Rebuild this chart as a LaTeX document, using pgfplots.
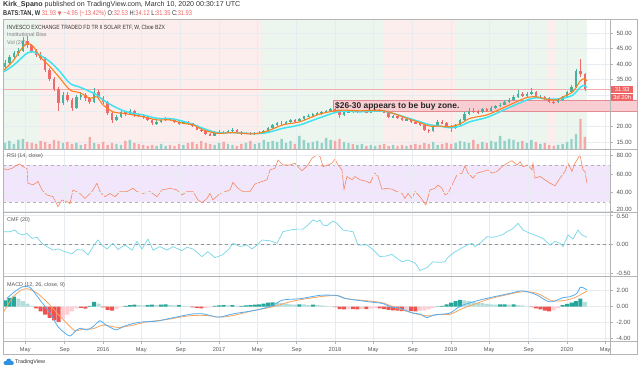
\documentclass[border=0pt]{standalone}
\usepackage{pgfplots}
\pgfplotsset{compat=1.18}
\usepackage{pgfplotstable}
\usepackage{fontspec}
\setmainfont{Liberation Sans}
\newfontfamily\dejavu{DejaVu Sans}
\newfontfamily\narrowfont[FakeStretch=0.83]{Liberation Sans}

\definecolor{bggreen}{HTML}{EDF6EE}
\definecolor{bgpink}{HTML}{FDEEEE}
\definecolor{gridc}{HTML}{E6ECF0}
\definecolor{framec}{HTML}{B4B4B4}
\definecolor{lblc}{HTML}{555555}
\definecolor{txt}{HTML}{333333}
\definecolor{upc}{HTML}{46B39E}
\definecolor{dnc}{HTML}{EF6A6A}
\definecolor{vup}{HTML}{93D2C9}
\definecolor{vdn}{HTML}{F6A8A8}
\definecolor{emao}{HTML}{FF7F1E}
\definecolor{emac}{HTML}{3EE3F0}
\definecolor{rsic}{HTML}{F4895F}
\definecolor{rsiband}{HTML}{F2E6FC}
\definecolor{cmfc}{HTML}{76D6E8}
\definecolor{macdb}{HTML}{55AEF2}
\definecolor{macdo}{HTML}{F8A460}
\definecolor{hdg}{HTML}{26A69A}
\definecolor{hlg}{HTML}{B2DFDB}
\definecolor{hrd}{HTML}{EF5350}
\definecolor{hpk}{HTML}{FFCDD2}
\definecolor{zonef}{HTML}{F9CED2}
\definecolor{zoned}{HTML}{E48A94}
\definecolor{pricered}{HTML}{EF6464}
\definecolor{tvblue}{HTML}{2F8FE0}

% biweekly candles: index i, open, high, low, close, volume (bar height units)
\pgfplotstableread{
i o h l c v
0 39.0 41.2 38.6 40.5 6
1 40.5 42.8 40.0 42.2 8
2 42.2 44.2 41.5 43.5 5
3 43.5 45.3 42.6 44.2 9
4 44.2 48.8 43.8 47.5 10
5 47.5 49.0 45.2 46.0 7
6 46.0 46.6 43.6 44.2 6
7 44.2 45.0 42.4 43.0 5
8 43.0 43.8 41.3 42.0 8
9 42.0 42.4 37.5 38.0 7
10 38.0 38.8 34.6 35.2 5
11 35.2 36.0 31.4 32.0 9
12 32.0 32.6 24.8 27.5 8
13 27.5 31.0 26.8 30.2 6
14 30.2 31.2 28.0 28.6 7
15 28.6 29.2 24.9 26.0 5
16 26.0 30.0 25.6 29.3 6
17 29.3 31.2 28.5 30.1 4
18 30.1 30.8 28.2 29.0 5
19 29.0 29.6 27.2 28.0 12
20 28.0 32.4 27.6 31.0 6
21 31.0 31.6 28.7 29.2 5
22 29.2 29.8 27.1 27.8 7
23 27.8 28.2 23.6 24.3 4
24 24.3 24.8 21.2 22.2 6
25 22.2 23.6 21.6 23.0 5
26 23.0 25.0 22.6 24.5 4
27 24.5 25.1 23.3 24.0 8
28 24.0 25.6 23.6 25.0 9
29 25.0 25.4 23.1 23.6 6
30 23.6 24.2 22.9 23.5 5
31 23.5 24.0 22.5 23.0 4
32 23.0 23.4 21.6 22.0 3
33 22.0 22.3 20.3 21.0 4
34 21.0 22.0 20.6 21.5 3
35 21.5 22.4 21.1 22.0 5
36 22.0 22.9 21.7 22.5 3
37 22.5 22.8 21.6 22.0 4
38 22.0 22.3 21.1 21.5 3
39 21.5 21.8 20.6 21.0 5
40 21.0 21.9 20.7 21.5 4
41 21.5 21.7 20.6 21.0 6
42 21.0 21.2 19.7 20.0 7
43 20.0 20.3 18.7 19.0 5
44 19.0 19.4 18.1 18.5 8
45 18.5 18.8 17.2 17.5 6
46 17.5 17.9 16.8 17.0 5
47 17.0 18.4 16.9 18.0 4
48 18.0 18.8 17.6 18.3 6
49 18.3 18.6 17.6 18.0 7
50 18.0 18.9 17.8 18.6 5
51 18.6 19.4 18.3 19.0 4
52 19.0 19.2 17.9 18.2 3
53 18.2 18.5 17.4 17.8 5
54 17.8 18.3 17.5 18.0 6
55 18.0 18.2 17.3 17.6 8
56 17.6 18.2 17.4 17.9 5
57 17.9 18.4 17.6 18.0 6
58 18.0 18.8 17.8 18.5 9
59 18.5 19.8 18.3 19.5 7
60 19.5 20.8 19.2 20.5 8
61 20.5 21.4 20.2 21.0 7
62 21.0 21.6 20.5 21.0 10
63 21.0 21.9 20.7 21.5 6
64 21.5 22.4 21.2 22.0 8
65 22.0 22.3 21.4 21.8 5
66 21.8 22.8 21.6 22.5 13
67 22.5 23.5 22.2 23.2 9
68 23.2 23.9 22.9 23.5 6
69 23.5 24.4 23.2 24.0 7
70 24.0 24.6 23.6 24.2 8
71 24.2 24.9 23.8 24.5 6
72 24.5 25.4 24.2 25.0 11
73 25.0 25.9 24.7 25.5 9
74 25.5 26.0 24.6 25.0 8
75 25.0 25.2 22.8 23.8 10
76 23.8 24.8 23.4 24.5 7
77 24.5 25.3 24.2 25.0 6
78 25.0 25.3 24.4 24.8 5
79 24.8 25.2 24.4 24.8 4
80 24.8 25.3 24.5 25.0 5
81 25.0 25.2 24.2 24.5 3
82 24.5 25.3 24.3 25.0 4
83 25.0 25.6 24.8 25.3 3
84 25.3 25.5 24.7 25.0 4
85 25.0 25.2 24.2 24.5 5
86 24.5 24.7 22.8 23.0 3
87 23.0 23.6 22.7 23.3 4
88 23.3 23.5 22.5 22.8 3
89 22.8 23.0 21.7 22.0 4
90 22.0 22.6 21.8 22.3 3
91 22.3 22.5 21.2 21.5 4
92 21.5 21.8 20.7 21.0 5
93 21.0 21.3 20.2 20.5 4
94 20.5 20.7 18.6 19.0 6
95 19.0 19.3 17.9 18.5 5
96 18.5 20.4 18.3 20.0 7
97 20.0 22.0 19.8 21.5 4
98 21.5 22.2 20.8 21.0 5
99 21.0 21.3 19.7 20.0 6
100 20.0 20.3 18.2 19.5 5
101 19.5 20.9 19.3 20.5 6
102 20.5 22.4 20.3 22.0 8
103 22.0 24.6 21.8 24.0 7
104 24.0 25.9 23.7 25.0 6
105 25.0 25.8 24.3 24.8 9
106 24.8 25.2 24.0 24.5 5
107 24.5 26.0 24.3 25.5 7
108 25.5 25.9 24.7 25.0 6
109 25.0 26.4 24.8 26.0 8
110 26.0 27.0 25.7 26.5 7
111 26.5 27.5 26.2 27.0 13
112 27.0 28.5 26.8 28.0 8
113 28.0 29.0 27.6 28.5 10
114 28.5 30.2 28.2 29.5 9
115 29.5 31.7 29.2 30.5 7
116 30.5 31.2 29.5 30.0 8
117 30.0 31.0 29.6 30.5 6
118 30.5 32.4 30.2 31.0 9
119 31.0 31.3 29.0 29.5 7
120 29.5 30.2 29.1 29.5 5
121 29.5 29.9 28.5 29.0 6
122 29.0 29.3 27.6 28.0 4
123 28.0 28.4 27.2 27.8 3
124 27.8 28.8 27.5 28.5 4
125 28.5 29.9 28.2 29.5 5
126 29.5 31.5 29.3 31.0 7
127 31.0 33.4 30.8 32.8 10
128 32.8 38.5 32.4 37.8 15
129 37.8 41.7 35.8 36.9 30
130 36.9 37.2 31.35 31.93 12
}\candles

\pgfplotstableread{
x y
2015.147 38.1
2015.224 41.0
2015.284 44.3
2015.345 46.6
2015.397 45.8
2015.457 42.4
2015.543 39.2
2015.629 35.5
2015.716 31.7
2015.802 30.8
2015.888 29.0
2015.948 29.5
2016.000 26.9
2016.086 24.7
2016.172 24.2
2016.259 23.7
2016.345 23.1
2016.466 22.1
2016.578 22.1
2016.690 21.0
2016.776 20.5
2016.862 18.9
2016.983 17.8
2017.121 18.0
2017.293 17.6
2017.414 18.5
2017.552 20.5
2017.698 21.5
2017.871 24.0
2018.043 25.2
2018.216 25.0
2018.388 25.2
2018.500 24.2
2018.621 22.6
2018.733 21.2
2018.819 20.1
2018.905 20.1
2018.991 19.9
2019.078 20.8
2019.164 22.6
2019.310 23.7
2019.422 25.5
2019.534 27.4
2019.655 29.3
2019.741 29.5
2019.828 28.7
2019.914 28.5
2019.966 29.5
2020.052 31.2
2020.112 34.5
2020.147 35.3
2020.172 34.7
}\emafast

\pgfplotstableread{
x y
2015.147 37.6
2015.224 39.5
2015.284 41.5
2015.345 43.5
2015.397 44.0
2015.457 42.9
2015.543 40.8
2015.629 37.6
2015.716 33.8
2015.802 32.6
2015.888 31.2
2015.948 30.1
2016.000 28.5
2016.086 26.6
2016.172 25.1
2016.259 24.2
2016.345 23.7
2016.466 22.6
2016.603 22.4
2016.750 21.0
2016.862 19.4
2016.983 18.0
2017.121 18.0
2017.293 17.7
2017.414 18.0
2017.552 19.4
2017.698 20.5
2017.871 22.8
2018.043 24.8
2018.216 24.7
2018.388 25.0
2018.500 24.2
2018.621 22.8
2018.733 21.5
2018.819 20.5
2018.905 20.1
2018.991 19.6
2019.078 20.1
2019.164 21.5
2019.310 22.9
2019.422 24.7
2019.534 26.6
2019.655 28.5
2019.741 29.2
2019.828 28.8
2019.914 28.8
2019.966 29.0
2020.052 30.1
2020.112 32.5
2020.147 33.2
2020.172 32.6
}\emaslow

\pgfplotstableread{
x y
2015.138 66.3
2015.172 64.5
2015.216 66.3
2015.259 69.9
2015.284 71.0
2015.310 68.0
2015.345 66.0
2015.353 50.0
2015.397 48.4
2015.440 52.0
2015.474 42.8
2015.517 37.4
2015.569 35.5
2015.612 24.7
2015.647 32.0
2015.690 30.0
2015.716 28.0
2015.741 42.8
2015.802 39.0
2015.845 33.6
2015.905 41.0
2015.948 50.0
2015.974 41.0
2016.017 35.5
2016.060 39.0
2016.103 35.5
2016.147 41.0
2016.207 41.0
2016.259 44.6
2016.293 41.0
2016.345 39.0
2016.405 41.0
2016.466 35.5
2016.509 42.8
2016.578 44.6
2016.638 42.8
2016.681 37.4
2016.724 41.0
2016.776 41.0
2016.819 32.0
2016.853 29.0
2016.897 33.6
2016.922 39.0
2016.948 32.0
2017.009 39.0
2017.095 42.8
2017.121 51.1
2017.164 44.6
2017.207 41.0
2017.267 41.0
2017.310 49.3
2017.371 52.0
2017.414 53.8
2017.440 64.6
2017.483 66.3
2017.509 75.3
2017.552 69.9
2017.612 69.9
2017.655 71.7
2017.681 68.0
2017.716 63.6
2017.767 69.9
2017.802 77.2
2017.845 80.8
2017.871 79.0
2017.897 68.0
2017.940 69.9
2017.974 71.7
2018.000 76.1
2018.026 69.9
2018.060 64.6
2018.078 43.6
2018.103 57.4
2018.147 53.8
2018.172 57.4
2018.216 53.8
2018.276 52.0
2018.302 50.2
2018.345 61.0
2018.371 57.4
2018.405 43.6
2018.448 44.6
2018.491 43.6
2018.534 41.0
2018.578 39.1
2018.603 33.6
2018.629 39.1
2018.664 33.6
2018.690 41.0
2018.733 35.5
2018.784 26.5
2018.819 42.8
2018.862 44.6
2018.888 48.2
2018.922 44.6
2018.948 37.4
2018.974 39.1
2019.017 50.2
2019.052 59.2
2019.095 61.0
2019.121 68.9
2019.147 61.0
2019.190 55.6
2019.224 61.0
2019.276 62.8
2019.319 64.6
2019.353 61.0
2019.397 62.8
2019.440 68.0
2019.483 71.7
2019.526 74.5
2019.569 69.9
2019.595 73.5
2019.621 68.0
2019.664 69.9
2019.698 64.6
2019.707 71.7
2019.724 55.6
2019.767 57.4
2019.810 53.8
2019.853 50.2
2019.897 47.3
2019.940 55.6
2019.983 62.8
2020.009 71.7
2020.043 62.8
2020.069 71.7
2020.112 80.8
2020.138 64.6
2020.155 62.8
2020.172 50.2
}\rsi

\pgfplotstableread{
x y
2015.138 0.216
2015.198 0.216
2015.241 0.245
2015.267 0.188
2015.310 0.160
2015.345 0.188
2015.388 0.100
2015.431 0.120
2015.474 0.017
2015.517 -0.040
2015.569 -0.100
2015.612 -0.080
2015.672 -0.127
2015.733 -0.166
2015.776 -0.090
2015.828 -0.100
2015.871 -0.183
2015.914 -0.040
2015.957 0.074
2015.991 -0.012
2016.034 -0.080
2016.086 0.017
2016.129 -0.090
2016.190 -0.012
2016.250 -0.100
2016.293 0.050
2016.336 -0.080
2016.388 0.090
2016.431 -0.100
2016.491 -0.040
2016.552 -0.100
2016.603 -0.040
2016.681 -0.110
2016.724 -0.050
2016.776 -0.080
2016.853 -0.212
2016.905 -0.127
2016.966 -0.230
2017.026 -0.183
2017.078 -0.100
2017.121 0.017
2017.181 -0.040
2017.241 -0.012
2017.284 -0.080
2017.328 -0.012
2017.371 0.074
2017.440 0.060
2017.500 0.017
2017.552 0.216
2017.612 0.245
2017.672 0.260
2017.724 0.260
2017.767 0.330
2017.810 0.417
2017.845 0.390
2017.871 0.417
2017.897 0.330
2017.931 0.320
2017.983 0.400
2018.017 0.360
2018.069 0.245
2018.155 0.216
2018.198 -0.012
2018.276 -0.012
2018.328 -0.090
2018.388 -0.210
2018.448 -0.200
2018.491 -0.170
2018.534 -0.240
2018.578 -0.300
2018.629 -0.270
2018.690 -0.320
2018.733 -0.450
2018.793 -0.400
2018.845 -0.300
2018.905 -0.310
2018.948 -0.300
2018.966 -0.240
2019.017 -0.150
2019.078 -0.080
2019.138 -0.012
2019.181 0.017
2019.207 -0.040
2019.250 0.017
2019.310 0.130
2019.362 0.120
2019.440 0.160
2019.483 0.216
2019.534 0.270
2019.578 0.360
2019.621 0.245
2019.681 0.188
2019.741 0.145
2019.793 0.100
2019.853 -0.012
2019.897 0.050
2019.940 0.017
2019.966 -0.040
2020.009 0.160
2020.052 0.090
2020.095 0.245
2020.129 0.160
2020.172 0.120
}\cmf

\pgfplotstableread{
x y
2015.172 1.05
2015.241 1.90
2015.310 2.50
2015.371 2.40
2015.457 0.84
2015.543 -0.80
2015.612 -2.50
2015.672 -3.30
2015.716 -3.66
2015.759 -3.10
2015.802 -2.70
2015.862 -2.90
2015.914 -2.50
2015.974 -1.75
2016.017 -2.20
2016.078 -2.70
2016.121 -2.90
2016.172 -2.50
2016.259 -2.10
2016.345 -1.90
2016.466 -1.80
2016.578 -1.45
2016.664 -1.20
2016.776 -0.90
2016.862 -0.90
2016.948 -1.20
2017.009 -1.30
2017.121 -0.90
2017.241 -0.62
2017.353 -0.33
2017.466 0.20
2017.552 0.84
2017.698 1.00
2017.871 1.42
2018.017 1.40
2018.069 1.10
2018.155 0.88
2018.328 0.55
2018.414 0.40
2018.474 0.00
2018.560 -0.20
2018.672 -0.80
2018.733 -0.92
2018.793 -1.37
2018.845 -1.05
2018.905 -0.96
2018.991 -0.80
2019.052 -0.20
2019.103 0.20
2019.190 0.60
2019.310 1.05
2019.422 1.40
2019.509 1.67
2019.595 1.96
2019.655 1.88
2019.741 1.46
2019.828 0.71
2019.879 0.63
2019.966 1.13
2020.026 1.25
2020.086 1.67
2020.112 2.38
2020.138 2.38
2020.172 2.10
}\macdline

\pgfplotstableread{
x y
2015.138 -0.80
2015.224 1.20
2015.310 2.17
2015.371 2.17
2015.431 1.70
2015.517 0.60
2015.603 -0.80
2015.690 -2.10
2015.759 -3.00
2015.828 -2.80
2015.914 -2.75
2016.000 -2.30
2016.086 -2.50
2016.147 -2.60
2016.259 -2.30
2016.379 -1.90
2016.552 -1.60
2016.664 -1.30
2016.776 -1.10
2016.897 -1.10
2017.009 -1.30
2017.121 -1.10
2017.293 -0.50
2017.466 0.00
2017.638 0.70
2017.871 1.25
2018.026 1.40
2018.103 1.00
2018.388 0.55
2018.500 0.00
2018.647 -0.70
2018.793 -1.15
2018.905 -0.96
2018.991 -0.96
2019.103 -0.20
2019.224 0.42
2019.336 1.00
2019.483 1.50
2019.621 1.88
2019.741 1.67
2019.853 0.84
2019.914 0.70
2020.000 0.84
2020.086 1.25
2020.172 1.96
}\signal

% histogram: k = 0 growing above, 1 falling above, 2 falling below, 3 rising below
\pgfplotstableread{
i v k
0 0.8 0
1 1.1 0
2 1.25 0
3 1.0 1
4 0.7 1
5 0.4 1
6 0.1 1
7 -0.2 2
8 -0.6 2
9 -1.0 2
10 -1.4 2
11 -1.7 2
12 -1.9 2
13 -1.5 3
14 -1.0 3
15 -0.6 3
16 -0.2 3
17 -0.15 2
18 -0.25 2
19 0.1 0
20 0.6 0
21 0.4 1
22 -0.1 2
23 -0.4 2
24 -0.5 2
25 -0.3 3
26 -0.05 3
27 0.1 0
28 0.2 0
29 0.25 0
30 0.2 1
31 0.15 1
32 0.2 0
33 0.25 0
34 0.2 1
35 0.25 0
36 0.3 0
37 0.2 1
38 0.15 1
39 0.2 0
40 0.1 1
41 0.05 1
42 -0.1 2
43 -0.15 2
44 -0.2 2
45 -0.15 3
46 -0.1 3
47 0.1 0
48 0.15 0
49 0.2 0
50 0.15 1
51 0.2 0
52 0.1 1
53 0.1 0
54 0.15 0
55 0.2 0
56 0.25 0
57 0.3 0
58 0.4 0
59 0.5 0
60 0.55 0
61 0.5 1
62 0.45 1
63 0.4 1
64 0.3 1
65 0.25 1
66 0.3 0
67 0.3 1
68 0.2 1
69 0.25 0
70 0.2 1
71 0.15 1
72 0.1 1
73 0.05 1
74 -0.05 2
75 -0.3 2
76 -0.35 2
77 -0.3 3
78 -0.3 2
79 -0.35 2
80 -0.3 3
81 -0.3 2
82 -0.25 3
83 -0.15 3
84 -0.2 2
85 -0.3 2
86 -0.4 2
87 -0.45 2
88 -0.5 2
89 -0.55 2
90 -0.5 3
91 -0.55 2
92 -0.6 2
93 -0.5 3
94 -0.45 3
95 -0.3 3
96 -0.15 3
97 0.05 0
98 0.1 0
99 0.3 0
100 0.5 0
101 0.7 0
102 0.85 0
103 0.8 1
104 0.7 1
105 0.6 1
106 0.5 1
107 0.45 1
108 0.35 1
109 0.3 1
110 0.25 1
111 0.3 0
112 0.3 0
113 0.25 1
114 0.3 0
115 0.2 1
116 0.15 1
117 0.05 1
118 -0.05 2
119 -0.2 2
120 -0.35 2
121 -0.5 2
122 -0.6 2
123 -0.45 3
124 -0.2 3
125 0.2 0
126 0.35 0
127 0.5 0
128 0.7 0
129 1.0 0
130 0.6 1
}\hist

\pgfplotsset{
  panel/.style={
    scale only axis, width=607pt, anchor=south west,
    xmin=2015.138, xmax=2020.371,
    axis line style={draw=none},
    xtick={2015.33,2015.67,2016,2016.33,2016.67,2017,2017.33,2017.67,2018,2018.33,2018.67,2019,2019.33,2019.67,2020,2020.33},
    xticklabels={}, xtick style={draw=none},
    ytick pos=right, yticklabel pos=right,
    ytick style={draw=framec, line width=0.5pt},
    tick align=outside, major tick length=3pt,
    /pgf/number format/assume math mode=true,
    yticklabel style={font=\fontsize{6.1}{7}\selectfont, text=lblc,
      /pgf/number format/fixed, /pgf/number format/fixed zerofill, /pgf/number format/precision=2},
    grid=major, major grid style={draw=gridc, line width=0.5pt},
  },
  bare/.style={
    scale only axis, width=607pt, anchor=south west,
    xmin=2015.138, xmax=2020.371, hide axis,
  },
  candle/.style={only marks, mark=*, mark size=0pt, mark options={draw=none, fill=none}},
}

\begin{document}
\begin{tikzpicture}
\fill[white] (0,0) rectangle (640pt,370pt);
\useasboundingbox (0,0) rectangle (640pt,370pt);

% ---------- main panel: background bias shading + grid + price scale
\begin{axis}[panel, axis on top, at={(3pt,221pt)}, height=130pt,
  ymin=12.75, ymax=54.5, ytick={15,20,25,35,40,45,50},
  extra y ticks={30}, extra y tick labels={}, extra y tick style={grid=major, major tick length=0pt}]
  \fill[bggreen] (axis cs:2015.138,12.75) rectangle (axis cs:2015.457,54.5);
  \fill[bgpink]  (axis cs:2015.457,12.75) rectangle (axis cs:2017.371,54.5);
  \fill[bggreen] (axis cs:2017.371,12.75) rectangle (axis cs:2018.414,54.5);
  \fill[bgpink]  (axis cs:2018.414,12.75) rectangle (axis cs:2019.043,54.5);
  \fill[bggreen] (axis cs:2019.043,12.75) rectangle (axis cs:2019.828,54.5);
  \fill[bgpink]  (axis cs:2019.828,12.75) rectangle (axis cs:2019.897,54.5);
  \fill[bggreen] (axis cs:2019.897,12.75) rectangle (axis cs:2020.172,54.5);
\end{axis}

% ---------- volume
\begin{axis}[bare, at={(3pt,221pt)}, height=130pt, ymin=0, ymax=130]
  \addplot[ybar, bar width=2.4pt, bar shift=0pt, fill=vup, draw=none,
    restrict expr to domain={\thisrow{c}-\thisrow{o}}{0:100}]
    table[x expr=2015.155+0.03846*\thisrow{i}, y=v] {\candles};
  \addplot[ybar, bar width=2.4pt, bar shift=0pt, fill=vdn, draw=none,
    restrict expr to domain={\thisrow{o}-\thisrow{c}}{0.0001:100}]
    table[x expr=2015.155+0.03846*\thisrow{i}, y=v] {\candles};
\end{axis}

% ---------- price
\begin{axis}[bare, at={(3pt,221pt)}, height=130pt, ymin=12.75, ymax=54.5, clip=false]
  \addplot[pricered!55, line width=0.9pt] coordinates {(2015.138,31.93) (2020.371,31.93)};
  \draw[zoned, fill=zonef, line width=0.6pt] (axis cs:2017.983,24.95) rectangle (axis cs:2020.603,28.3);
  % wicks
  \addplot[candle, restrict expr to domain={\thisrow{c}-\thisrow{o}}{0:100},
    error bars/.cd, y dir=both, y explicit, error mark=none, error bar style={line width=0.6pt, draw=upc}]
    table[x expr=2015.155+0.03846*\thisrow{i}, y expr=0.5*(\thisrow{h}+\thisrow{l}), y error expr=0.5*(\thisrow{h}-\thisrow{l})] {\candles};
  \addplot[candle, restrict expr to domain={\thisrow{o}-\thisrow{c}}{0.0001:100},
    error bars/.cd, y dir=both, y explicit, error mark=none, error bar style={line width=0.6pt, draw=dnc}]
    table[x expr=2015.155+0.03846*\thisrow{i}, y expr=0.5*(\thisrow{h}+\thisrow{l}), y error expr=0.5*(\thisrow{h}-\thisrow{l})] {\candles};
  % bodies
  \addplot[candle, restrict expr to domain={\thisrow{c}-\thisrow{o}}{0:100},
    error bars/.cd, y dir=both, y explicit, error mark=none, error bar style={line width=2.5pt, draw=upc}]
    table[x expr=2015.155+0.03846*\thisrow{i}, y expr=0.5*(\thisrow{o}+\thisrow{c}), y error expr=0.5*abs(\thisrow{c}-\thisrow{o})] {\candles};
  \addplot[candle, restrict expr to domain={\thisrow{o}-\thisrow{c}}{0.0001:100},
    error bars/.cd, y dir=both, y explicit, error mark=none, error bar style={line width=2.5pt, draw=dnc}]
    table[x expr=2015.155+0.03846*\thisrow{i}, y expr=0.5*(\thisrow{o}+\thisrow{c}), y error expr=0.5*abs(\thisrow{c}-\thisrow{o})] {\candles};
  % moving averages
  \addplot[emac, line width=1.5pt, smooth] table {\emaslow};
  \addplot[emao, line width=1.1pt, smooth] table {\emafast};
  \node[anchor=west, inner sep=0pt, text=black!85, font=\bfseries\fontsize{8.4}{9}\selectfont]
    at (axis cs:2018.0,26.6) {\$26-30 appears to be buy zone.};
\end{axis}

% ---------- RSI
\begin{axis}[panel, axis on top, at={(3pt,158pt)}, height=63pt,
  ymin=18.9, ymax=87.2, ytick={40,60,80},
  extra y ticks={20}, extra y tick style={yticklabel style={yshift=1.6pt}}]
  \fill[rsiband] (axis cs:2015.138,30) rectangle (axis cs:2020.371,70);
  \addplot[gray!60, dashed, line width=0.5pt] coordinates {(2015.138,30) (2020.371,30)};
  \addplot[gray!60, dashed, line width=0.5pt] coordinates {(2015.138,70) (2020.371,70)};
  \addplot[rsic, line width=0.6pt] table {\rsi};
\end{axis}

% ---------- CMF
\begin{axis}[panel, at={(3pt,94pt)}, height=64pt,
  ymin=-0.544, ymax=0.554, ytick={-0.5,0},
  extra y ticks={0.5}, extra y tick style={yticklabel style={yshift=-1.2pt}}]
  \addplot[gray!85, dashed, line width=0.5pt] coordinates {(2015.138,0) (2020.371,0)};
  \addplot[cmfc, line width=0.7pt] table {\cmf};
\end{axis}

% ---------- MACD
\begin{axis}[panel, at={(3pt,29pt)}, height=65pt,
  ymin=-4.29, ymax=3.84, ytick={-4,-2,0,2},
  xticklabels={May,Sep,2016,May,Sep,2017,May,Sep,2018,May,Sep,2019,May,Sep,2020,May},
  xticklabel style={font=\fontsize{5.6}{6}\selectfont, text=lblc},
  xtick style={draw=framec, line width=0.5pt}, xtick pos=bottom]
  \addplot[ybar, bar width=4pt, bar shift=0pt, fill=hdg, draw=none, restrict expr to domain={\thisrow{k}}{-0.5:0.5}]
    table[x expr=2015.155+0.03846*\thisrow{i}, y=v] {\hist};
  \addplot[ybar, bar width=4pt, bar shift=0pt, fill=hlg, draw=none, restrict expr to domain={\thisrow{k}}{0.5:1.5}]
    table[x expr=2015.155+0.03846*\thisrow{i}, y=v] {\hist};
  \addplot[ybar, bar width=4pt, bar shift=0pt, fill=hrd, draw=none, restrict expr to domain={\thisrow{k}}{1.5:2.5}]
    table[x expr=2015.155+0.03846*\thisrow{i}, y=v] {\hist};
  \addplot[ybar, bar width=4pt, bar shift=0pt, fill=hpk, draw=none, restrict expr to domain={\thisrow{k}}{2.5:3.5}]
    table[x expr=2015.155+0.03846*\thisrow{i}, y=v] {\hist};
  \addplot[macdo, line width=0.8pt, smooth] table {\signal};
  \addplot[macdb, line width=0.8pt, smooth] table {\macdline};
\end{axis}

% ---------- frame
\draw[framec, line width=0.6pt] (3pt,16pt) rectangle (637pt,351pt);
\draw[framec, line width=0.6pt] (610pt,16pt) -- (610pt,351pt);
\foreach \yy in {221,158,94,29} \draw[framec, line width=0.6pt] (3pt,\yy pt) -- (637pt,\yy pt);

% ---------- price labels on the scale
\node[fill=pricered, text=white, font=\fontsize{5.8}{6}\selectfont, inner sep=0.6pt, minimum width=22pt, minimum height=7pt, anchor=west] at (611pt,280.7pt) {31.93};
\node[fill=pricered, text=white, font=\fontsize{5.8}{6}\selectfont, inner sep=0.6pt, minimum width=22pt, minimum height=7pt, anchor=west] at (611pt,272.6pt) {3d 20h};

% ---------- texts
\node[anchor=west, inner sep=0pt, text=txt, font=\fontsize{7.1}{8}\selectfont] at (3pt,365.5pt)
  {\textbf{Kirk\_Spano} published on TradingView.com, March 10, 2020 00:30:17 UTC};
\node[anchor=west, inner sep=0pt, text=txt, font=\narrowfont\fontsize{6.9}{8}\selectfont] at (3pt,356.5pt)
  {\textbf{BATS:TAN, W} \textcolor{pricered}{31.93 {\dejavu\fontsize{5.4}{6}\selectfont ▼} −4.95 (−13.42\%)} O:\textcolor{pricered}{32.53} H:\textcolor{pricered}{34.12} L:\textcolor{pricered}{31.35} C:\textcolor{pricered}{31.93}};
\node[anchor=west, inner sep=0pt, text=txt, font=\narrowfont\fontsize{6.1}{7}\selectfont] at (7pt,342.7pt)
  {INVESCO EXCHANGE TRADED FD TR II SOLAR ETF, W, Cboe BZX};
\node[anchor=west, inner sep=0pt, text=gray, font=\fontsize{5.4}{6}\selectfont] at (7pt,335pt) {Institutional Bias};
\node[anchor=west, inner sep=0pt, text=gray, font=\fontsize{5.4}{6}\selectfont] at (7pt,327.3pt) {Vol (20)};
\node[anchor=west, inner sep=0pt, text=lblc, font=\fontsize{5.4}{6}\selectfont] at (7pt,214pt) {RSI (14, close)};
\node[anchor=west, inner sep=0pt, text=lblc, font=\fontsize{5.4}{6}\selectfont] at (7pt,150pt) {CMF (20)};
\node[anchor=west, inner sep=0pt, text=lblc, font=\fontsize{5.4}{6}\selectfont] at (7pt,85pt) {MACD (12, 26, close, 9)};

% ---------- logo
\fill[tvblue] (5.5pt,7pt) circle (2pt);
\fill[tvblue] (8.8pt,8.6pt) circle (2.8pt);
\fill[tvblue] (11.8pt,7pt) circle (2pt);
\fill[tvblue] (5.5pt,5pt) rectangle (11.8pt,7.5pt);
\node[anchor=west, inner sep=0pt, text=txt, font=\fontsize{5.4}{6}\selectfont] at (15pt,7.5pt) {TradingView};
\end{tikzpicture}
\end{document}
